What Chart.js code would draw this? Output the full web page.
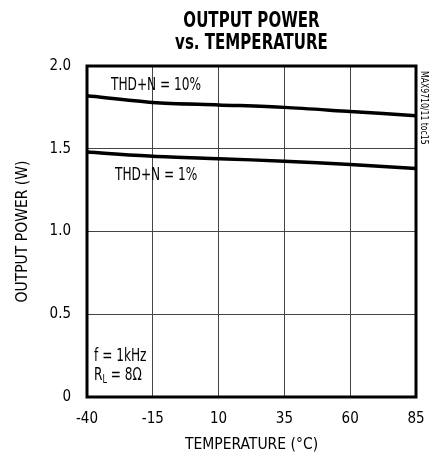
<!DOCTYPE html>
<html><head><meta charset="utf-8">
<script src="https://cdn.jsdelivr.net/npm/chart.js@4"></script>
<style>html,body{margin:0;padding:0;background:#fff}#w{width:446px;height:459px}</style>
</head><body><div id="w"><canvas id="c"></canvas></div>
<script>
const temperatures = [-40, -15, 10, 35, 60, 85];
const power10 = [1.82, 1.78, 1.765, 1.75, 1.725, 1.70];
const power1 = [1.48, 1.455, 1.44, 1.425, 1.405, 1.38];
const xTicks = [-40, -15, 10, 35, 60, 85];
const yTicks = [0, 0.5, 1.0, 1.5, 2.0];
const titleLines = ['OUTPUT POWER', 'vs. TEMPERATURE'];
const FONT = "'DejaVu Sans Condensed', 'Liberation Sans', Arial, sans-serif";

function narrowText(ctx, text, x, y, size, sx, weight) {
  ctx.save();
  ctx.font = (weight || 'normal') + ' ' + size + 'px ' + FONT;
  ctx.translate(x, y);
  ctx.scale(sx, 1);
  ctx.fillText(text, 0, 0);
  const w = ctx.measureText(text).width * sx;
  ctx.restore();
  return w;
}

const annot = {
  id: 'annot',
  afterDraw(chart) {
    const {ctx, chartArea: a} = chart;
    ctx.save();
    ctx.strokeStyle = '#000'; ctx.lineWidth = 3;
    ctx.strokeRect(a.left, a.top, a.right - a.left, a.bottom - a.top);
    ctx.fillStyle = '#000';
    ctx.textBaseline = 'middle';
    ctx.textAlign = 'center';
    const cx = (a.left + a.right) / 2;
    narrowText(ctx, titleLines[0], cx, 21, 22, 0.76, 'bold');
    narrowText(ctx, titleLines[1], cx, 43, 22, 0.76, 'bold');
    ctx.textAlign = 'left';
    narrowText(ctx, 'THD+N = 10%', 111, 85, 18, 0.75);
    narrowText(ctx, 'THD+N = 1%', 115, 175, 18, 0.75);
    narrowText(ctx, 'f = 1kHz', 94, 356, 18, 0.75);
    const ry = 375, rx = 94;
    let w = narrowText(ctx, 'R', rx, ry, 18, 0.75);
    w += narrowText(ctx, 'L', rx + w, ry + 5, 12, 0.75);
    narrowText(ctx, ' = 8\u03A9', rx + w, ry, 18, 0.75);
    ctx.translate(a.right + 8, a.top + 5);
    ctx.rotate(Math.PI / 2);
    narrowText(ctx, 'MAX9710/11 toc15', 0, 0, 11, 0.78);
    ctx.restore();
  }
};

new Chart(document.getElementById('c'), {
  type: 'line',
  data: {
    datasets: [
      {label: 'THD+N = 10%', data: temperatures.map((t, i) => ({x: t, y: power10[i]})), borderColor: '#000', borderWidth: 3.5, pointRadius: 0, tension: 0.3, fill: false},
      {label: 'THD+N = 1%', data: temperatures.map((t, i) => ({x: t, y: power1[i]})), borderColor: '#000', borderWidth: 3.5, pointRadius: 0, tension: 0.3, fill: false}
    ]
  },
  options: {
    responsive: true, maintainAspectRatio: false, animation: false,
    layout: {padding: {top: 66, right: 30, left: 0, bottom: 0}},
    plugins: {legend: {display: false}, tooltip: {enabled: false}, title: {display: false}},
    scales: {
      x: {type: 'linear', min: -40, max: 85,
        afterBuildTicks: s => { s.ticks = xTicks.map(v => ({value: v})); },
        afterFit: s => { s.height = 62; },
        grid: {color: '#444', lineWidth: 1, drawTicks: false},
        border: {display: false},
        ticks: {color: '#000', font: {family: FONT, size: 15}, padding: 13},
        title: {display: true, text: 'TEMPERATURE (\u00B0C)', color: '#000', font: {family: FONT, size: 15.5}, padding: {top: 0, bottom: 5}}
      },
      y: {min: 0, max: 2.0,
        afterBuildTicks: s => { s.ticks = yTicks.map(v => ({value: v})); },
        afterFit: s => { s.width = 87; },
        grid: {color: '#444', lineWidth: 1, drawTicks: false},
        border: {display: false},
        ticks: {color: '#000', font: {family: FONT, size: 15}, padding: 16,
          callback: v => v === 0 ? '0' : v.toFixed(1)},
        title: {display: true, text: 'OUTPUT POWER (W)', color: '#000', font: {family: FONT, size: 15.5}, padding: {top: 14, bottom: 4}}
      }
    }
  },
  plugins: [annot]
});
</script></body></html>
